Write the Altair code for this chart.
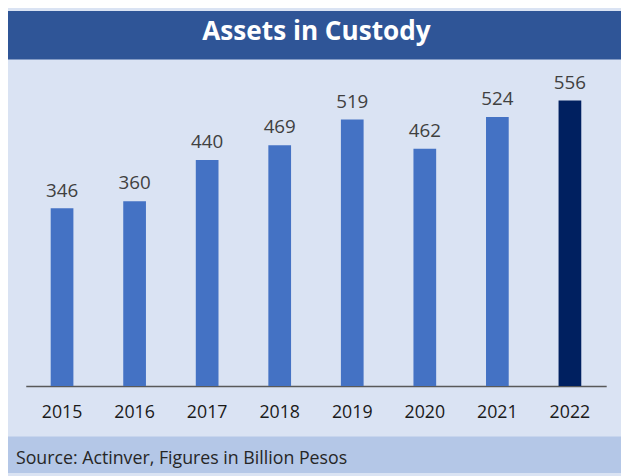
import altair as alt
import pandas as pd

years = ["2015", "2016", "2017", "2018", "2019", "2020", "2021", "2022"]
values = [346, 360, 440, 469, 519, 462, 524, 556]
highlight_year = "2022"
title_text = ["Assets in Custody"]
source_text = ["Source: Actinver, Figures in Billion Pesos"]

df = pd.DataFrame({"year": years, "value": values})

W, H = 588, 331
PL, PT, PR, PB = 18, 49, 15, 88
FONT = "Open Sans"

one = pd.DataFrame({"k": [1]})

title_band = alt.Chart(one).mark_rect(color="#2F5597").encode(
    x=alt.value(-PL), x2=alt.value(W + PR), y=alt.value(-PT), y2=alt.value(0)
)
source_band = alt.Chart(one).mark_rect(color="#B4C7E7").encode(
    x=alt.value(-PL), x2=alt.value(W + PR), y=alt.value(382), y2=alt.value(H + PB)
)
title = alt.Chart(pd.DataFrame({"t": title_text})).mark_text(
    font=FONT, fontWeight="bold", fontSize=26.5, color="white",
    align="center", baseline="alphabetic"
).encode(text="t:N", x=alt.value(294.5), y=alt.value(-19.5))
source = alt.Chart(pd.DataFrame({"t": source_text})).mark_text(
    font=FONT, fontSize=18, color="#262626", align="left", baseline="alphabetic"
).encode(text="t:N", x=alt.value(-10), y=alt.value(410))

xscale = alt.Scale(paddingInner=0.687, paddingOuter=0.3435)
yscale = alt.Scale(domain=[0, 636], nice=False, zero=True)
bars = alt.Chart(df).mark_bar().encode(
    x=alt.X("year:N", scale=xscale, sort=years,
            axis=alt.Axis(title=None, labelAngle=0, ticks=False, grid=False,
                          domainColor="#595959", domainWidth=1.5,
                          labelFont=FONT, labelFontSize=18, labelColor="#1a1a1a",
                          labelBaseline="alphabetic", labelPadding=32)),
    y=alt.Y("value:Q", scale=yscale, axis=None),
    color=alt.condition(alt.datum.year == highlight_year,
                        alt.value("#002060"), alt.value("#4472C4")),
)
labels = alt.Chart(df).mark_text(
    dy=-12, baseline="alphabetic", fontSize=19, color="#404040", font=FONT
).encode(x=alt.X("year:N", sort=years), y=alt.Y("value:Q", scale=yscale),
         text="value:Q")

chart = alt.layer(title_band, source_band, title, source, bars, labels).properties(
    width=W, height=H,
    autosize=alt.AutoSizeParams(type="none"),
    padding={"left": PL, "top": PT, "right": PR, "bottom": PB},
    background="#DAE3F3",
).configure_view(stroke=None)

chart.save("out.html", embed_options={"renderer": "svg", "actions": False})
